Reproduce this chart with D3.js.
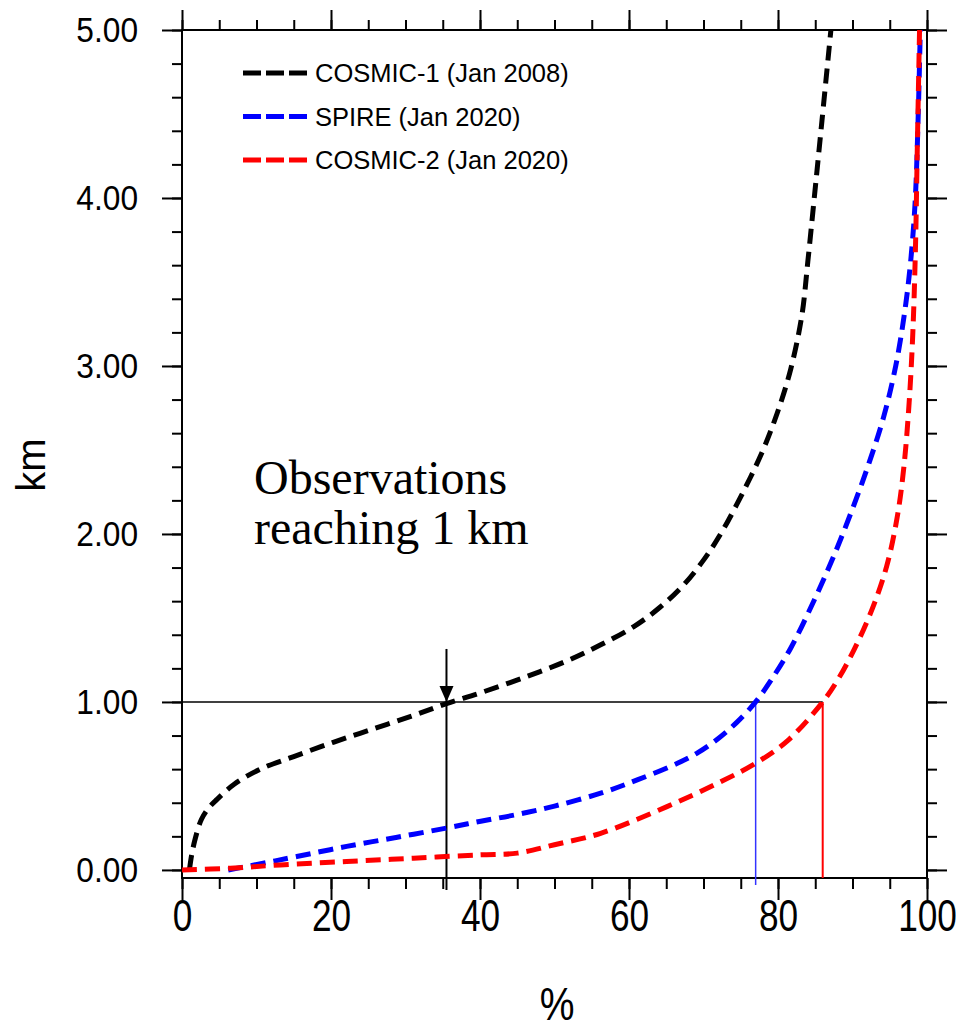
<!DOCTYPE html>
<html>
<head>
<meta charset="utf-8">
<script src="https://cdn.jsdelivr.net/npm/d3@7"></script>
<style>
  body { margin: 0; background: #fff; }
  svg { display: block; font-family: "Liberation Sans", Arial, sans-serif; }
</style>
</head>
<body>
<svg id="chart" width="956" height="1031"></svg>
<script>
// series: percent of profiles (x) reaching a given height in km (y)
var cosmic1Pct = [1.0, 1.3, 1.8, 2.6, 3.6, 4.7, 7.0, 10.5, 15.0, 20.3, 25.7, 31.1, 35.5, 40.1, 45.9, 51.7, 56.2, 60.7, 64.2, 67.4, 70.1, 72.3, 74.4, 77.7, 79.9, 81.7, 83.2, 84.0, 84.8, 85.9, 87.1];
var cosmic1Km  = [0.00, 0.09, 0.19, 0.30, 0.37, 0.42, 0.51, 0.60, 0.675, 0.76, 0.84, 0.92, 0.99, 1.055, 1.145, 1.245, 1.34, 1.45, 1.565, 1.70, 1.85, 2.00, 2.17, 2.47, 2.72, 2.98, 3.30, 3.62, 3.97, 4.46, 5.00];

var spirePct = [6.2, 10.9, 15.4, 22.1, 28.9, 35.6, 40.1, 45.0, 50.0, 56.2, 61.1, 66.5, 69.3, 71.9, 74.5, 77.0, 79.0, 81.7, 84.9, 87.5, 90.0, 92.2, 94.2, 95.8, 97.0, 97.8, 98.4, 98.8, 99.1];
var spireKm  = [0.00, 0.04, 0.08, 0.14, 0.195, 0.25, 0.29, 0.33, 0.38, 0.457, 0.536, 0.635, 0.70, 0.78, 0.88, 1.00, 1.125, 1.32, 1.61, 1.87, 2.15, 2.42, 2.70, 3.00, 3.32, 3.62, 3.97, 4.46, 5.00];

var cosmic2Pct = [0.0, 6.5, 13.2, 22.1, 31.1, 40.1, 45.0, 50.0, 56.2, 65.1, 71.9, 77.0, 81.3, 86.0, 88.0, 90.2, 92.7, 94.6, 96.0, 96.9, 97.6, 98.1, 98.45, 98.7, 99.0];
var cosmic2Km  = [0.00, 0.01, 0.03, 0.05, 0.07, 0.09, 0.10, 0.15, 0.218, 0.377, 0.516, 0.635, 0.77, 1.00, 1.13, 1.31, 1.56, 1.81, 2.10, 2.40, 2.78, 3.20, 3.70, 4.30, 5.00];

var seriesNames  = ["COSMIC-1 (Jan 2008)", "SPIRE (Jan 2020)", "COSMIC-2 (Jan 2020)"];
var seriesColors = ["#000000", "#0000ff", "#ff0000"];
var reach1km     = [35.5, 77.0, 86.0];   // % of profiles reaching 1 km
var refHeight    = 1.0;

var yTicks = [0, 1, 2, 3, 4, 5];
var xTicks = [0, 20, 40, 60, 80, 100];

var series = [
  { name: seriesNames[0], color: seriesColors[0], pct: cosmic1Pct, km: cosmic1Km },
  { name: seriesNames[1], color: seriesColors[1], pct: spirePct,   km: spireKm },
  { name: seriesNames[2], color: seriesColors[2], pct: cosmic2Pct, km: cosmic2Km }
];

var plotLeft = 182, plotRight = 927, plotTop = 30, plotBottom = 878;

var svg = d3.select("#chart");

var x = d3.scaleLinear().domain([0, 100]).range([plotLeft, plotRight]);
var y = d3.scaleLinear().domain([-0.048, 5]).range([plotBottom, plotTop]);

var minorY = d3.range(0, 5.001, 0.2);
var minorX = d3.range(0, 100.001, 5);

// minor ticks, all four sides
svg.append("g").attr("transform", "translate(" + plotLeft + ",0)")
  .call(d3.axisLeft(y).tickValues(minorY).tickSize(10).tickFormat(""));
svg.append("g").attr("transform", "translate(" + plotRight + ",0)")
  .call(d3.axisRight(y).tickValues(minorY).tickSize(10).tickFormat(""));
svg.append("g").attr("transform", "translate(0," + plotBottom + ")")
  .call(d3.axisBottom(x).tickValues(minorX).tickSize(11).tickFormat(""));
svg.append("g").attr("transform", "translate(0," + plotTop + ")")
  .call(d3.axisTop(x).tickValues(minorX).tickSize(10).tickFormat(""));

// major ticks
var ySx = 0.88;
var yAxis = svg.append("g").attr("transform", "translate(" + plotLeft + ",0)")
  .call(d3.axisLeft(y).tickValues(yTicks).tickSize(20).tickPadding(24).tickFormat(d3.format(".2f")));
yAxis.selectAll("text")
  .attr("x", -44 / ySx)
  .attr("transform", "scale(" + ySx + ",1)")
  .style("font-size", "36px");

svg.append("g").attr("transform", "translate(" + plotRight + ",0)")
  .call(d3.axisRight(y).tickValues(yTicks).tickSize(20).tickFormat(""));
svg.append("g").attr("transform", "translate(0," + plotTop + ")")
  .call(d3.axisTop(x).tickValues(xTicks).tickSize(20).tickFormat(""));

var xSx = 0.8;
var xAxis = svg.append("g").attr("transform", "translate(0," + plotBottom + ")")
  .call(d3.axisBottom(x).tickValues(xTicks).tickSize(22).tickPadding(0).tickFormat(d3.format("d")));
xAxis.selectAll("text")
  .attr("y", 22)
  .attr("transform", "scale(" + xSx + ",1)")
  .style("font-size", "44px");

svg.selectAll(".domain").remove();
svg.selectAll(".tick line").attr("stroke", "#000").attr("stroke-width", 2);
svg.selectAll(".tick text").attr("fill", "#000").attr("font-family", "Liberation Sans, Arial, sans-serif");

// frame
svg.append("rect")
  .attr("x", plotLeft).attr("y", plotTop)
  .attr("width", plotRight - plotLeft).attr("height", plotBottom - plotTop)
  .attr("fill", "none").attr("stroke", "#000").attr("stroke-width", 2);

// reference lines at 1 km
svg.append("line")
  .attr("x1", plotLeft).attr("x2", x(reach1km[2]))
  .attr("y1", y(refHeight)).attr("y2", y(refHeight))
  .attr("stroke", "#000").attr("stroke-width", 1.5);

svg.append("line")
  .attr("x1", x(reach1km[0])).attr("x2", x(reach1km[0]))
  .attr("y1", y(refHeight) - 53).attr("y2", plotBottom + 12)
  .attr("stroke", "#000").attr("stroke-width", 2);
svg.append("path")
  .attr("d", "M" + (x(reach1km[0]) - 7) + "," + (y(refHeight) - 16) +
             "L" + (x(reach1km[0]) + 7) + "," + (y(refHeight) - 16) +
             "L" + x(reach1km[0]) + "," + y(refHeight) + "Z")
  .attr("fill", "#000");

svg.append("line")
  .attr("x1", x(reach1km[1])).attr("x2", x(reach1km[1]))
  .attr("y1", y(refHeight)).attr("y2", plotBottom + 7)
  .attr("stroke", "#3333ff").attr("stroke-width", 1.5);
svg.append("line")
  .attr("x1", x(reach1km[2])).attr("x2", x(reach1km[2]))
  .attr("y1", y(refHeight)).attr("y2", plotBottom)
  .attr("stroke", "#ff0000").attr("stroke-width", 2);

// curves
var line = d3.line()
  .x(function(d) { return x(d[0]); })
  .y(function(d) { return y(d[1]); })
  .curve(d3.curveCatmullRom.alpha(0.5));

svg.selectAll(".curve")
  .data(series)
  .enter()
  .append("path")
  .attr("class", "curve")
  .attr("d", function(s) { return line(d3.zip(s.pct, s.km)); })
  .attr("fill", "none")
  .attr("stroke", function(s) { return s.color; })
  .attr("stroke-width", 5)
  .attr("stroke-dasharray", "15,8");

// legend
var legend = svg.selectAll(".legend")
  .data(series)
  .enter()
  .append("g")
  .attr("class", "legend")
  .attr("transform", function(d, i) { return "translate(243," + (73 + i * 43.5) + ")"; });

legend.append("line")
  .attr("x1", 0).attr("x2", 65)
  .attr("stroke", function(d) { return d.color; })
  .attr("stroke-width", 5)
  .attr("stroke-dasharray", "18,5");

legend.append("text")
  .attr("x", 72).attr("y", 9)
  .style("font-size", "25.5px")
  .attr("fill", "#000")
  .text(function(d) { return d.name; });

// annotation
var note = svg.append("text")
  .attr("x", 254).attr("y", 494)
  .style("font-family", "Liberation Serif, Times New Roman, serif")
  .style("font-size", "48px");
note.append("tspan").attr("x", 254).text("Observations");
note.append("tspan").attr("x", 254).attr("dy", 50).text("reaching 1 km");

// axis titles
svg.append("text")
  .attr("transform", "translate(45,465) rotate(-90)")
  .attr("text-anchor", "middle")
  .style("font-size", "40px")
  .text("km");

svg.append("text")
  .attr("transform", "translate(557,1020) scale(0.85,1)")
  .attr("text-anchor", "middle")
  .style("font-size", "46px")
  .text("%");
</script>
</body>
</html>
